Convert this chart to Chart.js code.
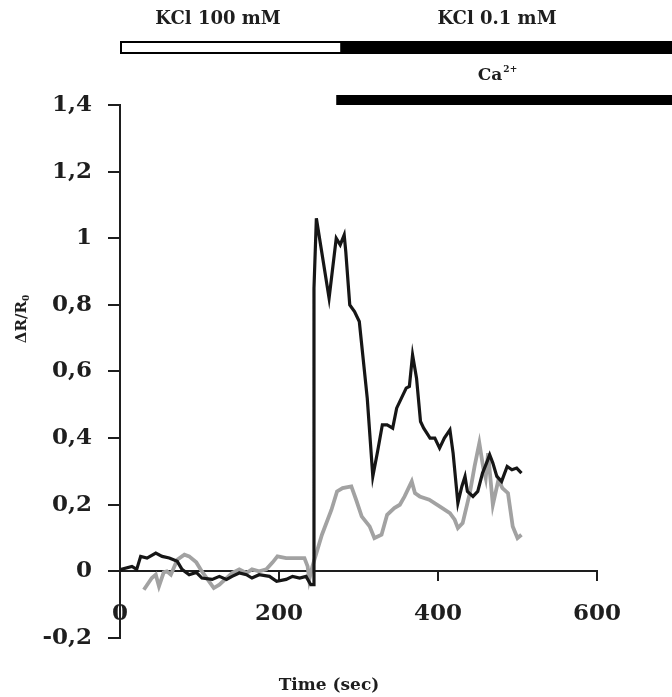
<!DOCTYPE html>
<html>
<head>
<meta charset="utf-8">
<script src="https://cdn.jsdelivr.net/npm/chart.js@4/dist/chart.umd.min.js"></script>
<style>
html,body{margin:0;padding:0;background:#fff;}
#wrap{width:672px;height:697px;position:relative;}
</style>
</head>
<body>
<div id="wrap"><canvas id="c" width="672" height="697"></canvas></div>
<script>
// ---- data ----
const blackTime = [0,1,15,21,26,34,45,53,62,72,78,87,96,103,116,125,134,141,150,159,166,175,188,197,209,217,226,234,240,243,244,247,253,263,272,277,282,284,289,295,301,311,318,324,330,336,343,348,354,360,364,368,373,378,382,386,390,396,402,408,415,419,423,425,430,434,437,444,450,456,461,465,469,474,480,487,493,499,505];
const blackValue = [0.005,0.006,0.015,0.006,0.045,0.04,0.055,0.045,0.04,0.03,0.006,-0.01,-0.003,-0.02,-0.024,-0.015,-0.024,-0.015,-0.005,-0.01,-0.02,-0.01,-0.015,-0.03,-0.024,-0.015,-0.02,-0.015,-0.04,-0.04,0.85,1.06,0.97,0.82,1.0,0.98,1.01,0.96,0.80,0.78,0.75,0.52,0.285,0.36,0.44,0.44,0.43,0.49,0.52,0.55,0.555,0.65,0.58,0.45,0.43,0.415,0.40,0.40,0.37,0.40,0.425,0.355,0.255,0.205,0.255,0.285,0.24,0.225,0.24,0.295,0.325,0.35,0.325,0.285,0.27,0.315,0.305,0.31,0.295];
const grayTime = [30,40,45,49,55,59,64,72,81,87,96,103,112,118,125,134,141,150,159,166,175,184,192,198,209,222,232,236,238,242,254,266,273,280,291,297,304,314,320,329,336,345,352,358,364,367,371,377,389,402,415,421,425,431,440,446,452,457,460,463,469,476,481,488,494,500,505];
const grayValue = [-0.055,-0.02,-0.01,-0.045,-0.003,0.0,-0.01,0.035,0.05,0.045,0.027,0.0,-0.03,-0.05,-0.04,-0.02,-0.005,0.006,-0.005,0.006,0.0,0.006,0.027,0.045,0.04,0.04,0.04,0.015,-0.025,0.015,0.11,0.185,0.24,0.25,0.255,0.215,0.165,0.135,0.10,0.11,0.17,0.19,0.2,0.225,0.255,0.27,0.235,0.225,0.215,0.195,0.175,0.155,0.13,0.145,0.235,0.315,0.385,0.31,0.28,0.355,0.2,0.275,0.25,0.235,0.135,0.1,0.11];

const xTickValues = [0,200,400,600];
const xTickLabels = ["0","200","400","600"];
const yTickValues = [-0.2,0,0.2,0.4,0.6,0.8,1,1.2,1.4];
const yTickLabels = ["-0,2","0","0,2","0,4","0,6","0,8","1","1,2","1,4"];

// protocol periods (seconds)
const protocolLabels = ["KCl 100 mM","KCl 0.1 mM","Ca"];
const kclHighPeriod = [0,277];
const caStart = 272;

const xTitle = "Time (sec)";
const yTitle = ["\u0394R/R","0"];

// ---- drawing ----
const FONT = '"DejaVu Serif", "Liberation Serif", serif';
const INK = '#1e1e1e';

const annot = {
  id: 'annot',
  afterDraw(chart) {
    const ctx = chart.ctx;
    const xs = chart.scales.x;
    const W = chart.width;
    ctx.save();
    // KCl bar: white (100 mM) then black (0.1 mM)
    const x0 = xs.getPixelForValue(kclHighPeriod[0]);
    const x1 = xs.getPixelForValue(kclHighPeriod[1]);
    ctx.fillStyle = '#000';
    ctx.fillRect(x0, 41, W - x0, 13);
    ctx.fillStyle = '#fff';
    ctx.fillRect(x0 + 2, 43, x1 - x0 - 2, 9);
    // Ca bar
    const xc = xs.getPixelForValue(caStart);
    ctx.fillStyle = '#000';
    ctx.fillRect(xc, 95, W - xc, 10);

    ctx.fillStyle = INK;
    ctx.textAlign = 'center';
    ctx.textBaseline = 'middle';
    ctx.font = 'bold 18px ' + FONT;
    ctx.fillText(protocolLabels[0], 218, 19);
    ctx.fillText(protocolLabels[1], 497, 19);
    // Ca2+
    ctx.textAlign = 'left';
    ctx.font = 'bold 17px ' + FONT;
    const caW = ctx.measureText(protocolLabels[2]).width;
    ctx.font = 'bold 9px ' + FONT;
    const supW = ctx.measureText('2+').width;
    const cx = 497 - (caW + supW) / 2;
    ctx.font = 'bold 17px ' + FONT;
    ctx.fillText(protocolLabels[2], cx, 76);
    ctx.font = 'bold 9px ' + FONT;
    ctx.fillText('2+', cx + caW + 1, 70);

    // x title
    ctx.textAlign = 'center';
    ctx.font = 'bold 17px ' + FONT;
    ctx.fillText(xTitle, 329, 686);

    // y title (rotated)
    ctx.translate(22, 319);
    ctx.rotate(-Math.PI / 2);
    ctx.font = 'bold 15px ' + FONT;
    const tw = ctx.measureText(yTitle[0]).width;
    ctx.font = 'bold 9px ' + FONT;
    const sw = ctx.measureText(yTitle[1]).width;
    const sx = -(tw + sw) / 2;
    ctx.textAlign = 'left';
    ctx.font = 'bold 15px ' + FONT;
    ctx.fillText(yTitle[0], sx, 0);
    ctx.font = 'bold 9px ' + FONT;
    ctx.fillText(yTitle[1], sx + tw, 5);
    ctx.restore();
  }
};

const tickFont = {family: FONT, size: 23, weight: 'bold'};

new Chart(document.getElementById('c').getContext('2d'), {
  type: 'line',
  data: {
    datasets: [
      {
        data: blackTime.map((t, i) => ({x: t, y: blackValue[i]})),
        borderColor: '#161616',
        borderWidth: 3.2,
        pointRadius: 0,
        tension: 0,
        fill: false
      },
      {
        data: grayTime.map((t, i) => ({x: t, y: grayValue[i]})),
        borderColor: '#a2a2a2',
        borderWidth: 3.8,
        pointRadius: 0,
        tension: 0,
        fill: false
      }
    ]
  },
  options: {
    responsive: false,
    animation: false,
    devicePixelRatio: 1,
    layout: {padding: {left: 0, right: 75, top: 105, bottom: 59}},
    plugins: {legend: {display: false}, tooltip: {enabled: false}},
    scales: {
      x: {
        type: 'linear',
        min: 0, max: 600,
        position: {y: 0},
        afterBuildTicks: s => { s.ticks = xTickValues.map(v => ({value: v})); },
        ticks: {
          font: tickFont, color: INK, padding: 20,
          maxRotation: 0, autoSkip: false,
          callback: (v, i) => xTickLabels[i]
        },
        grid: {drawOnChartArea: false, tickLength: 9, color: INK, lineWidth: 2},
        border: {color: INK, width: 2}
      },
      y: {
        type: 'linear',
        min: -0.2, max: 1.4,
        afterBuildTicks: s => { s.ticks = yTickValues.map(v => ({value: v})); },
        afterFit: s => { s.width = 120; },
        ticks: {
          font: tickFont, color: INK, padding: 16,
          autoSkip: false,
          callback: (v, i) => yTickLabels[i]
        },
        grid: {drawOnChartArea: false, tickLength: 12, color: INK, lineWidth: 2},
        border: {color: INK, width: 2}
      }
    }
  },
  plugins: [annot]
});
</script>
</body>
</html>
